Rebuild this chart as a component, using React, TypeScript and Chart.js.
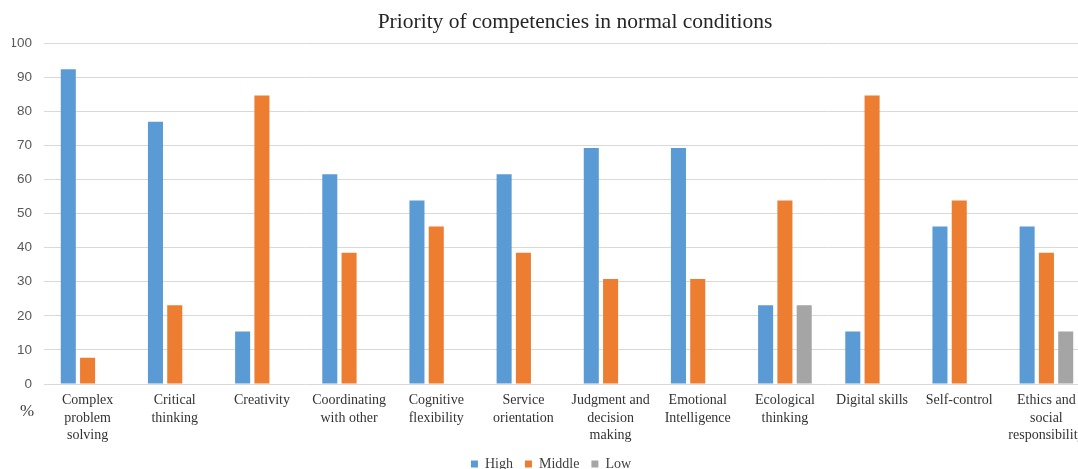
import React, { useEffect, useRef } from "react";
import { Chart, registerables } from "chart.js";

Chart.register(...registerables);

const categories: string[][] = [
  ["Complex", "problem", "solving"],
  ["Critical", "thinking"],
  ["Creativity"],
  ["Coordinating", "with other"],
  ["Cognitive", "flexibility"],
  ["Service", "orientation"],
  ["Judgment and", "decision", "making"],
  ["Emotional", "Intelligence"],
  ["Ecological", "thinking"],
  ["Digital skills"],
  ["Self-control"],
  ["Ethics and", "social", "responsibility"],
];

const highValues: (number | null)[] = [92.3, 76.9, 15.4, 61.5, 53.8, 61.5, 69.2, 69.2, 23.1, 15.4, 46.2, 46.2];
const middleValues: (number | null)[] = [7.7, 23.1, 84.6, 38.5, 46.2, 38.5, 30.8, 30.8, 53.8, 84.6, 53.8, 38.5];
const lowValues: (number | null)[] = [null, null, null, null, null, null, null, null, 23.1, null, null, 15.4];

const titleText = "Priority of competencies in normal conditions";
const unitText = "%";

const SERIF = "'Times New Roman', 'Liberation Serif', serif";
const SANS = "'Liberation Sans', Arial, sans-serif";

const extraText = {
  id: "extraText",
  afterDraw(chart: any) {
    const ctx = chart.ctx;
    const area = chart.chartArea;
    ctx.save();
    ctx.fillStyle = "#262626";
    ctx.font = `21.5px ${SERIF}`;
    ctx.textAlign = "center";
    ctx.textBaseline = "middle";
    ctx.fillText(titleText, 575, 22);
    ctx.font = `17px ${SERIF}`;
    ctx.fillStyle = "#404040";
    ctx.fillText(unitText, area.left - 17, area.bottom + 28);
    ctx.restore();
  },
};

export default function App() {
  const ref = useRef<HTMLCanvasElement | null>(null);

  useEffect(() => {
    document.body.style.margin = "0";
    document.body.style.overflow = "hidden";
    if (!ref.current) return;
    const chart = new Chart(ref.current, {
      type: "bar",
      data: {
        labels: categories,
        datasets: [
          { label: "High", data: highValues, backgroundColor: "#5B9BD5" },
          { label: "Middle", data: middleValues, backgroundColor: "#ED7D31" },
          { label: "Low", data: lowValues, backgroundColor: "#A5A5A5" },
        ],
      },
      options: {
        animation: false,
        responsive: true,
        maintainAspectRatio: false,
        layout: { padding: { left: 12, right: 10, top: 43, bottom: 0 } },
        datasets: {
          bar: { categoryPercentage: 0.664, barPercentage: 0.78 },
        } as any,
        plugins: {
          title: { display: false },
          tooltip: { enabled: false },
          legend: {
            position: "bottom",
            labels: {
              boxWidth: 7,
              boxHeight: 7,
              padding: 12,
              color: "#404040",
              font: { family: SERIF, size: 14 },
            },
          },
        },
        scales: {
          x: {
            grid: { display: false, drawTicks: false },
            border: { display: false },
            ticks: {
              color: "#333333",
              padding: 8,
              autoSkip: false,
              maxRotation: 0,
              font: { family: SERIF, size: 14, lineHeight: 1.25 },
            },
            afterFit: (scale: any) => {
              scale.height = 61;
            },
          },
          y: {
            min: 0,
            max: 100,
            ticks: {
              stepSize: 10,
              color: "#595959",
              padding: 12,
              font: { family: SANS, size: 13.5 },
            },
            grid: { color: "#d9d9d9", lineWidth: 1, drawTicks: false },
            border: { display: false },
            afterFit: (scale: any) => {
              scale.width = 32;
            },
          },
        },
      },
      plugins: [extraText],
    });
    return () => chart.destroy();
  }, []);

  return (
    <div
      style={{
        position: "fixed",
        left: 0,
        top: 0,
        width: 1078,
        height: 469,
        overflow: "hidden",
        background: "#ffffff",
      }}
    >
      <div style={{ position: "relative", width: 1100, height: 481 }}>
        <canvas ref={ref} />
      </div>
    </div>
  );
}
